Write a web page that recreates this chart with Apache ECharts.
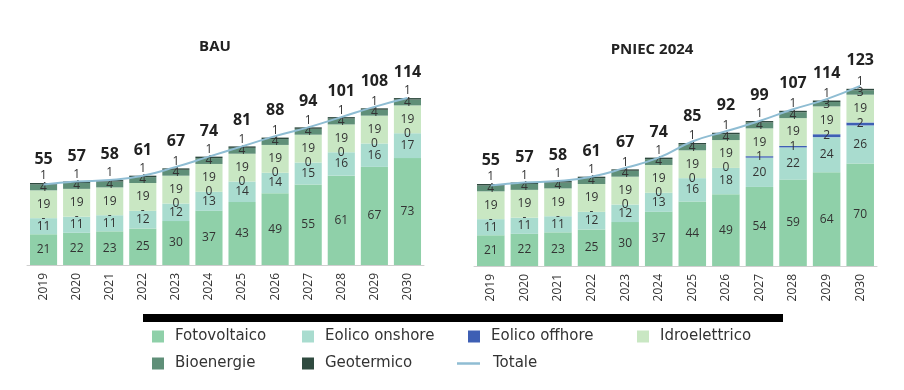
<!DOCTYPE html>
<html><head><meta charset="utf-8">
<script src="https://cdn.jsdelivr.net/npm/echarts@6/dist/echarts.min.js"></script>
<style>html,body{margin:0;padding:0;background:#fff}#c{width:904px;height:390px}</style>
</head><body><div id="c"></div>
<script>
const years = ['2019','2020','2021','2022','2023','2024','2025','2026','2027','2028','2029','2030'];
// BAU
const bauFV   = [21,22,23,25,30,37,43,49,55,61,67,73];
const bauOn   = [11,11,11,12,12,13,14,14,15,16,16,17];
const bauOff  = [0,0,0,0,0,0,0,0,0,0,0,0];
const bauOffLbl = ['-','-','-','-','0','0','0','0','0','0','0','0'];
const bauIdro = [19,19,19,19,19,19,19,19,19,19,19,19];
const bauBio  = [4,4,4,4,4,4,4,4,4,4,4,4];
const bauGeo  = [1,1,1,1,1,1,1,1,1,1,1,1];
const bauTot  = [55,57,58,61,67,74,81,88,94,101,108,114];
// PNIEC 2024
const pnFV   = [21,22,23,25,30,37,44,49,54,59,64,70];
const pnOn   = [11,11,11,12,12,13,16,18,20,22,24,26];
const pnOff  = [0,0,0,0,0,0,0,0,1,1,2,2];
const pnOffLbl = ['-','-','-','-','0','0','0','0','1','1','2','2'];
const pnIdro = [19,19,19,19,19,19,19,19,19,19,19,19];
const pnBio  = [4,4,4,4,4,4,4,4,4,4,3,3];
const pnGeo  = [1,1,1,1,1,1,1,1,1,1,1,1];
const pnTot  = [55,57,58,61,67,74,85,92,99,107,114,123];

const colors = {Fotovoltaico:'#8fd0a9','Eolico onshore':'#a9dccf','Eolico offhore':'#3e5fb4',Idroelettrico:'#c9e7c3',Bioenergie:'#5f8f78',Geotermico:'#2f4a3f',Totale:'#8fbdd3'};
const FONT = 'Open Sans';
const LFONT = 'DejaVu Sans';

const chart = echarts.init(document.getElementById('c'), null, {renderer:'canvas'});
const lblBase = {show:true, color:'#333', fontSize:12, fontFamily:FONT};

function seriesFor(idx, fv, on, off, offLbl, idro, bio, geo, tot){
  const st = 'stack'+idx;
  const mk = (name, data, label) => ({
    name, type:'bar', stack:st, xAxisIndex:idx, yAxisIndex:idx, data,
    barWidth:'82%', itemStyle:{color:colors[name]}, label, emphasis:{disabled:true}
  });
  return [
    mk('Fotovoltaico', fv, Object.assign({}, lblBase, {position:'inside'})),
    mk('Eolico onshore', on, Object.assign({}, lblBase, {position:'inside'})),
    mk('Eolico offhore', off, Object.assign({}, lblBase, {position:'inside', formatter:p=>offLbl[p.dataIndex]})),
    mk('Idroelettrico', idro, Object.assign({}, lblBase, {position:'inside'})),
    mk('Bioenergie', bio, Object.assign({}, lblBase, {position:'inside'})),
    mk('Geotermico', geo, Object.assign({}, lblBase, {position:'top', distance:1})),
    {name:'Totale', type:'line', xAxisIndex:idx, yAxisIndex:idx, data:tot, smooth:true,
     symbol:'circle', symbolSize:1, showSymbol:true, z:5,
     lineStyle:{color:colors.Totale, width:2}, itemStyle:{color:'rgba(0,0,0,0)'},
     label:{show:true, position:'top', distance:17, fontSize:16, fontWeight:'bold', color:'#222', fontFamily:FONT},
     emphasis:{disabled:true}}
  ];
}

const legendPos = [
  ['Fotovoltaico',152,329],['Eolico onshore',302,329],['Eolico offhore',468,329],['Idroelettrico',637,329],
  ['Bioenergie',152,356],['Geotermico',302,356],['Totale',457,356]
];
const legends = legendPos.map(([n,x,y]) => ({
  data:[n], left:x, top:y, padding:0, itemWidth: n==='Totale'?23:12, itemHeight: 12,
  icon: n==='Totale' ? 'path://M0,5 L23,5 L23,7.5 L0,7.5 Z' : 'rect',
  selectedMode:false,
  textStyle:{fontSize:15, color:'#333', fontFamily:LFONT, padding:[0,0,0, n==='Totale'?8:6]},
  itemStyle:{color:colors[n], borderWidth:0}
}));

const xAx = (gi) => ({
  type:'category', gridIndex:gi, data:years,
  axisLine:{lineStyle:{color:'#cfcfcf'}}, axisTick:{show:false},
  axisLabel:{rotate:90, fontSize:12, color:'#333', margin:8, fontFamily:FONT}
});
const yAx = (gi) => ({type:'value', gridIndex:gi, min:0, max:140, show:false, splitLine:{show:false}});

chart.setOption({
  animation:false,
  textStyle:{fontFamily:FONT},
  title:[
    {text:'BAU', left:210, top:34, textAlign:'center', textStyle:{fontSize:15, fontWeight:'bold', color:'#222', fontFamily:FONT}},
    {text:'PNIEC 2024', left:647, top:37, textAlign:'center', textStyle:{fontSize:15, fontWeight:'bold', color:'#222', fontFamily:FONT}}
  ],
  legend: legends,
  grid:[
    {left:27, width:397, top:60, height:205},
    {left:474, width:403, top:61, height:205}
  ],
  xAxis:[xAx(0), xAx(1)],
  yAxis:[yAx(0), yAx(1)],
  graphic:[{type:'rect', shape:{x:143, y:314, width:640, height:8}, style:{fill:'#000'}}],
  series:[
    ...seriesFor(0,bauFV,bauOn,bauOff,bauOffLbl,bauIdro,bauBio,bauGeo,bauTot),
    ...seriesFor(1,pnFV,pnOn,pnOff,pnOffLbl,pnIdro,pnBio,pnGeo,pnTot)
  ]
});
</script></body></html>
